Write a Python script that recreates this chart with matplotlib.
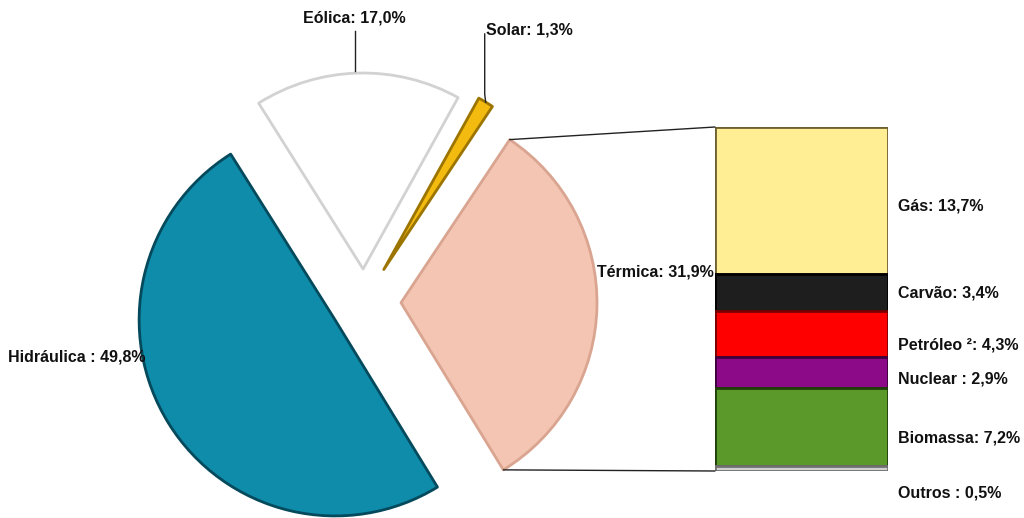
import matplotlib
matplotlib.use('Agg')
import matplotlib.pyplot as plt
from matplotlib.patches import ConnectionPatch
import numpy as np

# ---- data ----
pie_labels = ['Hidráulica :', 'Térmica:', 'Solar:', 'Eólica:']
pie_values = [49.8, 31.9, 1.3, 17.0]
pie_colors = ['#0e8ca9', '#f4c5b3', '#f3bb10', '#ffffff']
pie_edges = ['#05495c', '#d9a590', '#9c7400', '#d2d2d2']

bar_labels = ['Gás:', 'Carvão:', 'Petróleo ²:', 'Nuclear :', 'Biomassa:', 'Outros :']
bar_values = [13.7, 3.4, 4.3, 2.9, 7.2, 0.5]
bar_colors = ['#ffee94', '#1e1e1e', '#ff0000', '#8c0a88', '#5b9a2a', '#d0d0d0']
bar_edges = ['#6e6030', '#000000', '#7a0000', '#3e003c', '#1e4008', '#707070']


def fmt(lab, v):
    return f"{lab} {v:.1f}%".replace('.', ',')


W, H = 1024, 518
FONT = ['Liberation Sans Narrow', 'Liberation Sans', 'DejaVu Sans']
plt.rcParams['font.family'] = FONT

fig = plt.figure(figsize=(W / 100, H / 100), dpi=100)
ax = fig.add_axes([0, 0, 1, 1])

cx, cy = 364, H - 302
radius = 196
explode = [34, 37, 38, 33]
wedges, _ = ax.pie(pie_values, explode=explode, colors=pie_colors,
                   startangle=122.2, radius=radius, center=(cx, cy),
                   wedgeprops=dict(linewidth=2.0))
for w, ec in zip(wedges, pie_edges):
    w.set_edgecolor(ec)
    w.set_joinstyle('round')

ax.set_xlim(0, W)
ax.set_ylim(0, H)
ax.set_aspect('equal')
ax.axis('off')

txt = dict(fontsize=11.5, fontweight='bold', color='#111111')

# Hidráulica label
ax.text(8, H - 357, fmt(pie_labels[0], pie_values[0]), ha='left', va='center', **txt)
# Térmica label
ax.text(597, H - 272, fmt(pie_labels[1], pie_values[1]), ha='left', va='center', **txt)

# Eólica label with leader line
we = wedges[3]
mid = np.deg2rad((we.theta1 + we.theta2) / 2)
px, py = we.center[0] + we.r * np.cos(mid), we.center[1] + we.r * np.sin(mid)
ax.plot([px - 3, px - 3], [py + 2, H - 31], color='#222222', lw=1)
ax.text(px - 3, H - 18, fmt(pie_labels[3], pie_values[3]), ha='center', va='center', **txt)

# Solar label with leader line
ws = wedges[2]
mid = np.deg2rad((ws.theta1 + ws.theta2) / 2)
px, py = ws.center[0] + ws.r * np.cos(mid), ws.center[1] + ws.r * np.sin(mid)
ax.plot([px, px - 1, px - 1], [py, py + 8, H - 34], color='#222222', lw=1)
ax.text(px, H - 30, fmt(pie_labels[2], pie_values[2]), ha='left', va='center', **txt)

# ---- bar of pie ----
bx0, bx1, by0, by1 = 715, 888, 127, 471
bax = fig.add_axes([bx0 / W, (H - by1) / H, (bx1 - bx0) / W, (by1 - by0) / H])
total = sum(bar_values)
bottoms = np.concatenate([[0], np.cumsum(bar_values)[:-1]])
bars = bax.bar(0.5, bar_values, bottom=bottoms, width=1.0, color=bar_colors,
               edgecolor=bar_edges, linewidth=2.0)
bax.set_xlim(0, 1)
bax.set_ylim(total, 0)
bax.axis('off')

label_offsets = [0.5, 0.0, 1.0, 0.6, 1.0, 0.0]
for lab, v, b, off in zip(bar_labels, bar_values, bottoms, label_offsets):
    y = b + v / 2 + off
    if lab.startswith('Outros'):
        y = total + 2.0
    bax.text(1.06, y, fmt(lab, v), ha='left', va='center',
             transform=bax.get_yaxis_transform(), clip_on=False, **txt)

# connection lines between Térmica wedge and bar
wt = wedges[1]
for ang, ybar in [(wt.theta2, 0), (wt.theta1, total)]:
    a = np.deg2rad(ang)
    p = (wt.center[0] + wt.r * np.cos(a), wt.center[1] + wt.r * np.sin(a))
    con = ConnectionPatch(xyA=p, coordsA=ax.transData, xyB=(0, ybar), coordsB=bax.transData,
                          color='#222222', lw=1)
    fig.add_artist(con)

fig.savefig('out.png', dpi=100, facecolor='white')
